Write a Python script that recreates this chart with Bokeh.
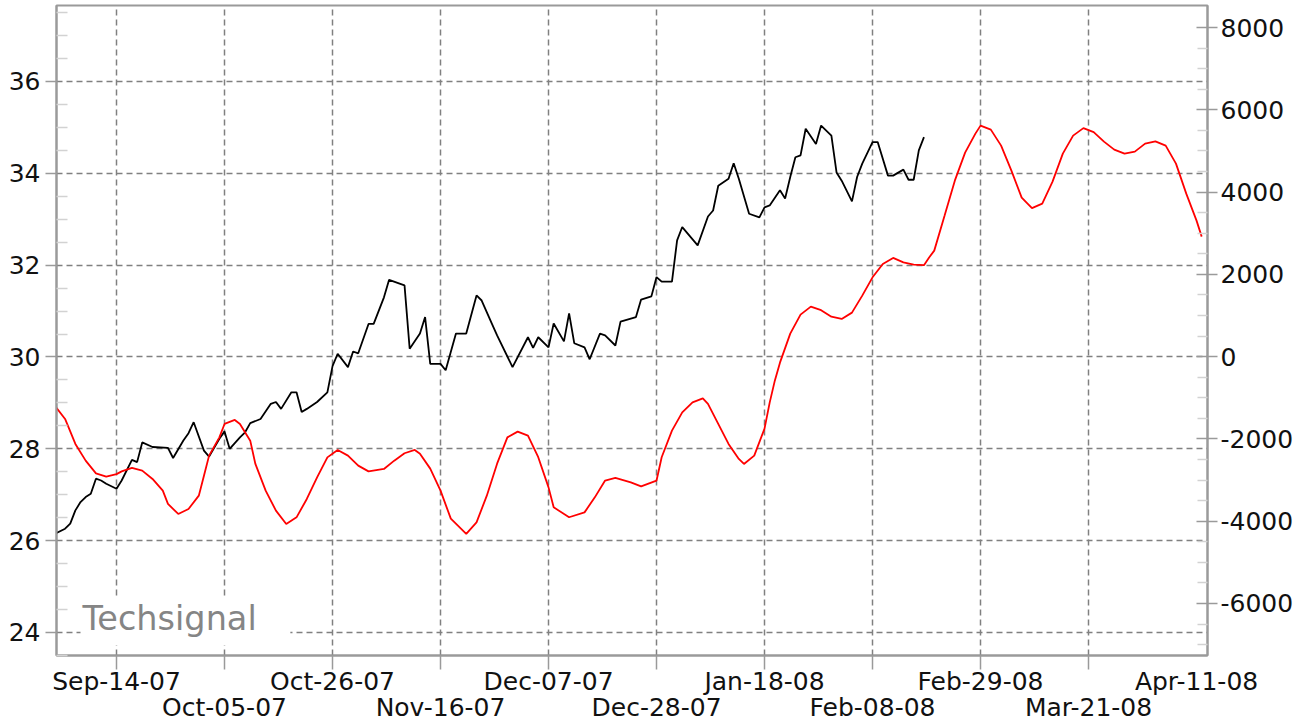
import datetime as dt
from bokeh.plotting import figure
from bokeh.models import ColumnDataSource, Range1d, LinearAxis, FixedTicker, Grid, Label
from bokeh.embed import file_html
from bokeh.resources import INLINE

# ---------------- data ----------------
price_dates = [
    "2007-09-02", "2007-09-04", "2007-09-05", "2007-09-06", "2007-09-07", "2007-09-08", "2007-09-09",
    "2007-09-10", "2007-09-11", "2007-09-12", "2007-09-14", "2007-09-15", "2007-09-17", "2007-09-18",
    "2007-09-19", "2007-09-21", "2007-09-24", "2007-09-25", "2007-09-27", "2007-09-28", "2007-09-29",
    "2007-10-01", "2007-10-02", "2007-10-04", "2007-10-05", "2007-10-06", "2007-10-08", "2007-10-09",
    "2007-10-10", "2007-10-12", "2007-10-14", "2007-10-15", "2007-10-16", "2007-10-18", "2007-10-19",
    "2007-10-20", "2007-10-21", "2007-10-23", "2007-10-25", "2007-10-26", "2007-10-27", "2007-10-29",
    "2007-10-30", "2007-10-31", "2007-11-02", "2007-11-03", "2007-11-05", "2007-11-06", "2007-11-09",
    "2007-11-10", "2007-11-12", "2007-11-13", "2007-11-14", "2007-11-16", "2007-11-17", "2007-11-19",
    "2007-11-21", "2007-11-23", "2007-11-24", "2007-11-26", "2007-11-27", "2007-11-30", "2007-12-03",
    "2007-12-04", "2007-12-05", "2007-12-07", "2007-12-08", "2007-12-10", "2007-12-11", "2007-12-12",
    "2007-12-14", "2007-12-15", "2007-12-17", "2007-12-18", "2007-12-20", "2007-12-21", "2007-12-24",
    "2007-12-25", "2007-12-27", "2007-12-28", "2007-12-29", "2007-12-31", "2008-01-01", "2008-01-02",
    "2008-01-05", "2008-01-07", "2008-01-08", "2008-01-09", "2008-01-11", "2008-01-12", "2008-01-13",
    "2008-01-15", "2008-01-17", "2008-01-18", "2008-01-19", "2008-01-21", "2008-01-22", "2008-01-23",
    "2008-01-24", "2008-01-25", "2008-01-26", "2008-01-28", "2008-01-29", "2008-01-31", "2008-02-01",
    "2008-02-02", "2008-02-04", "2008-02-05", "2008-02-06", "2008-02-08", "2008-02-09", "2008-02-11",
    "2008-02-12", "2008-02-14", "2008-02-15", "2008-02-16", "2008-02-17", "2008-02-18",
]
price_values = [
    26.15, 26.26, 26.37, 26.66, 26.84, 26.95, 27.02,
    27.35, 27.31, 27.24, 27.13, 27.31, 27.76, 27.71,
    28.14, 28.04, 28.02, 27.80, 28.18, 28.34, 28.58,
    27.96, 27.83, 28.22, 28.38, 28.00, 28.25, 28.36,
    28.56, 28.65, 28.98, 29.02, 28.87, 29.23, 29.23,
    28.80, 28.87, 29.02, 29.23, 29.80, 30.07, 29.78,
    30.12, 30.08, 30.72, 30.72, 31.30, 31.68, 31.56,
    30.18, 30.51, 30.87, 29.85, 29.85, 29.71, 30.51,
    30.51, 31.34, 31.23, 30.72, 30.47, 29.78, 30.43,
    30.20, 30.43, 30.21, 30.73, 30.34, 30.95, 30.30,
    30.21, 29.95, 30.51, 30.47, 30.25, 30.77, 30.87,
    31.25, 31.32, 31.74, 31.64, 31.64, 32.54, 32.83,
    32.43, 33.06, 33.19, 33.73, 33.88, 34.22, 33.88,
    33.12, 33.04, 33.26, 33.30, 33.63, 33.45, 33.92,
    34.35, 34.39, 34.97, 34.64, 35.04, 34.82, 34.02,
    33.84, 33.39, 33.92, 34.21, 34.68, 34.68, 33.95,
    33.95, 34.08, 33.86, 33.86, 34.50, 34.79,
]

osc_dates = [
    "2007-09-02", "2007-09-04", "2007-09-06", "2007-09-08", "2007-09-10", "2007-09-12", "2007-09-14",
    "2007-09-15", "2007-09-17", "2007-09-19", "2007-09-21", "2007-09-23", "2007-09-24", "2007-09-26",
    "2007-09-28", "2007-09-30", "2007-10-01", "2007-10-02", "2007-10-04", "2007-10-05", "2007-10-07",
    "2007-10-08", "2007-10-10", "2007-10-11", "2007-10-13", "2007-10-15", "2007-10-17", "2007-10-19",
    "2007-10-21", "2007-10-23", "2007-10-25", "2007-10-27", "2007-10-29", "2007-10-31", "2007-11-02",
    "2007-11-05", "2007-11-07", "2007-11-09", "2007-11-11", "2007-11-12", "2007-11-14", "2007-11-16",
    "2007-11-18", "2007-11-21", "2007-11-23", "2007-11-25", "2007-11-27", "2007-11-29", "2007-12-01",
    "2007-12-03", "2007-12-05", "2007-12-07", "2007-12-08", "2007-12-11", "2007-12-14", "2007-12-16",
    "2007-12-18", "2007-12-20", "2007-12-23", "2007-12-25", "2007-12-28", "2007-12-29", "2007-12-31",
    "2008-01-02", "2008-01-04", "2008-01-06", "2008-01-07", "2008-01-09", "2008-01-11", "2008-01-13",
    "2008-01-14", "2008-01-16", "2008-01-18", "2008-01-19", "2008-01-20", "2008-01-21", "2008-01-23",
    "2008-01-25", "2008-01-27", "2008-01-29", "2008-01-31", "2008-02-02", "2008-02-04", "2008-02-06",
    "2008-02-08", "2008-02-10", "2008-02-12", "2008-02-14", "2008-02-16", "2008-02-18", "2008-02-19",
    "2008-02-20", "2008-02-22", "2008-02-24", "2008-02-26", "2008-02-28", "2008-02-29", "2008-03-02",
    "2008-03-04", "2008-03-06", "2008-03-08", "2008-03-10", "2008-03-12", "2008-03-14", "2008-03-16",
    "2008-03-18", "2008-03-20", "2008-03-22", "2008-03-24", "2008-03-26", "2008-03-28", "2008-03-30",
    "2008-04-01", "2008-04-03", "2008-04-05", "2008-04-07", "2008-04-09", "2008-04-11", "2008-04-12",
]
osc_values = [
    -1190, -1514, -2122, -2528, -2837, -2917, -2856,
    -2788, -2705, -2771, -2973, -3257, -3580, -3824,
    -3702, -3379, -2893, -2406, -1962, -1636, -1539,
    -1636, -2042, -2608, -3257, -3743, -4067, -3906,
    -3459, -2934, -2448, -2268, -2406, -2649, -2788,
    -2730, -2528, -2348, -2268, -2358, -2722, -3257,
    -3938, -4310, -4028, -3379, -2601, -1962, -1823,
    -1920, -2445, -3177, -3663, -3904, -3785, -3420,
    -3012, -2948, -3055, -3153, -3012, -2445, -1799,
    -1354, -1111, -1014, -1150, -1636, -2122, -2487,
    -2608, -2406, -1750, -1118, -583, -146, 559,
    1021, 1215, 1130, 972, 916, 1070, 1483,
    1928, 2253, 2399, 2292, 2236, 2224, 2410,
    2577, 3427, 4278, 4959, 5421, 5615, 5518,
    5129, 4521, 3865, 3610, 3719, 4254, 4934,
    5372, 5554, 5457, 5226, 5032, 4934, 4983,
    5177, 5233, 5129, 4691, 3962, 3306, 2917,
]

x_tick_dates = ["2007-09-14", "2007-10-05", "2007-10-26", "2007-11-16", "2007-12-07", "2007-12-28",
                "2008-01-18", "2008-02-08", "2008-02-29", "2008-03-21", "2008-04-11"]
x_tick_labels = ["Sep-14-07", "Oct-05-07", "Oct-26-07", "Nov-16-07", "Dec-07-07", "Dec-28-07",
                 "Jan-18-08", "Feb-08-08", "Feb-29-08", "Mar-21-08", "Apr-11-08"]
left_ticks = [24, 26, 28, 30, 32, 34, 36]
left_tick_labels = ["24", "26", "28", "30", "32", "34", "36"]
right_ticks = [-6000, -4000, -2000, 0, 2000, 4000, 6000, 8000]
right_tick_labels = ["-6000", "-4000", "-2000", "0", "2000", "4000", "6000", "8000"]
watermark = "Techsignal"

# ---------------- helpers / styling ----------------
EPOCH = dt.datetime(1970, 1, 1)
DAY = 86400000.0


def to_ms(s):
    return (dt.datetime.strptime(s, "%Y-%m-%d") - EPOCH).total_seconds() * 1000.0


FONT = "DejaVu Sans"
FS = "25px"
TXT = "#111111"
AXC = "#9a9a9a"
MINC = "#d2d2d2"
GRIDC = "#808080"

anchor = to_ms(x_tick_dates[0])
x_start = anchor - 11.67 * DAY
x_end = anchor + 212.13 * DAY
y_lo, y_hi = 23.499, 37.655

price_src = ColumnDataSource(dict(x=[to_ms(d) for d in price_dates], y=price_values))
osc_src = ColumnDataSource(dict(x=[to_ms(d) for d in osc_dates], y=osc_values))

p = figure(width=1305, height=725, output_backend="svg", toolbar_location=None,
           x_axis_type=None, y_axis_type=None,
           x_range=Range1d(x_start, x_end), y_range=Range1d(y_lo, y_hi),
           min_border_left=56, min_border_right=98, min_border_top=5, min_border_bottom=70)
p.extra_y_ranges = {"osc": Range1d(-7264, 8535)}
p.background_fill_color = "white"
p.border_fill_color = "white"
p.outline_line_color = AXC
p.outline_line_width = 2

x_tick_ms = [to_ms(d) for d in x_tick_dates]
grid_x_ms = x_tick_ms[:-1]

# grids
p.add_layout(Grid(dimension=0, ticker=FixedTicker(ticks=grid_x_ms), grid_line_color=GRIDC,
                  grid_line_dash="6 4", grid_line_width=1.5))
p.add_layout(Grid(dimension=1, ticker=FixedTicker(ticks=left_ticks), grid_line_color=GRIDC,
                  grid_line_dash="6 4", grid_line_width=1.5))


def style_axis(ax):
    ax.axis_line_color = AXC
    ax.axis_line_width = 2
    ax.major_tick_line_color = AXC
    ax.major_tick_line_width = 1.5
    ax.minor_tick_line_color = MINC
    ax.minor_tick_line_width = 1.5
    ax.major_label_text_font = FONT
    ax.major_label_text_font_size = FS
    ax.major_label_text_color = TXT


# left axis
left_minor = [23.5 + 0.5 * i for i in range(29) if (23.5 + 0.5 * i) % 2 != 0]
ly = LinearAxis(ticker=FixedTicker(ticks=left_ticks, minor_ticks=left_minor))
style_axis(ly)
ly.major_tick_out = 11
ly.major_tick_in = 0
ly.minor_tick_in = 11
ly.minor_tick_out = 0
ly.major_label_standoff = 5
ly.major_label_overrides = {t: s for t, s in zip(left_ticks, left_tick_labels)}
p.add_layout(ly, "left")

# right axis
right_minor = [v for v in range(-7000, 8001, 500) if v % 2000 != 0]
ry = LinearAxis(y_range_name="osc", ticker=FixedTicker(ticks=right_ticks, minor_ticks=right_minor))
style_axis(ry)
ry.major_tick_out = 10
ry.major_tick_in = 11
ry.minor_tick_in = 10
ry.minor_tick_out = 0
ry.major_label_standoff = 3
ry.major_label_overrides = {t: s for t, s in zip(right_ticks, right_tick_labels)}
p.add_layout(ry, "right")

# bottom axis: tick marks as minor ticks, labels alternating on two rows
bx = LinearAxis(ticker=FixedTicker(ticks=x_tick_ms, minor_ticks=grid_x_ms))
style_axis(bx)
bx.minor_tick_line_color = AXC
bx.major_tick_out = 0
bx.major_tick_in = 0
bx.minor_tick_out = 14
bx.minor_tick_in = 0
bx.major_label_standoff = -3
bx.major_label_text_line_height = 0.9
bx.major_label_overrides = {t: (s if i % 2 == 0 else "\n" + s)
                            for i, (t, s) in enumerate(zip(x_tick_ms, x_tick_labels))}
p.add_layout(bx, "below")

# watermark background box and text
p.quad(left=[anchor - 7.0 * DAY], right=[anchor + 33.8 * DAY], top=[24.76], bottom=[23.72],
       fill_color="white", line_color=None)

# series
p.line(x="x", y="y", source=price_src, line_color="black", line_width=1.8)
p.line(x="x", y="y", source=osc_src, line_color="#ff0000", line_width=1.8, y_range_name="osc")

p.add_layout(Label(x=anchor - 6.6 * DAY, y=24.305, text=watermark, text_font=FONT,
                   text_font_size="33.5px", text_color="#858585", text_baseline="alphabetic"))

open("out.html", "w").write(file_html(p, INLINE))
